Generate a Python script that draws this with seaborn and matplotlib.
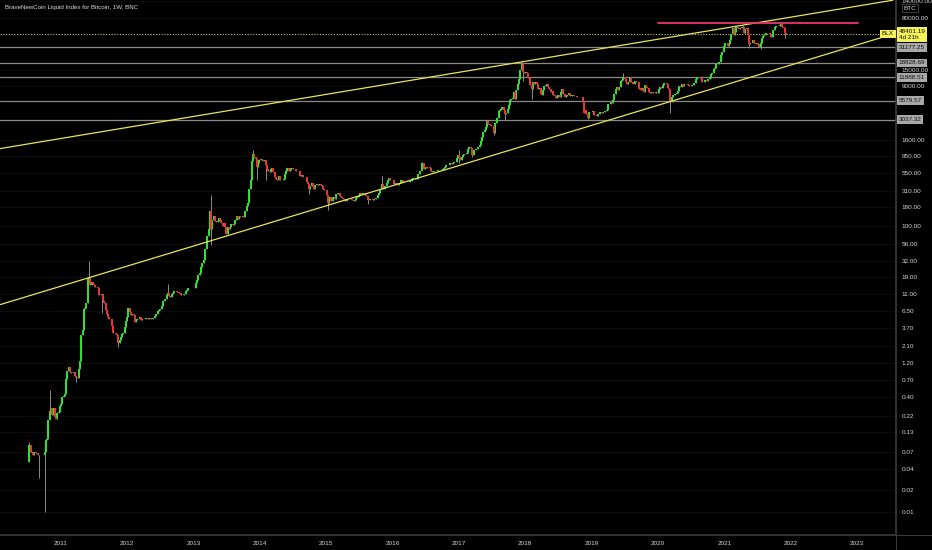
import matplotlib
matplotlib.use("Agg")
import matplotlib.pyplot as plt
import matplotlib.transforms as mtransforms
from matplotlib.lines import Line2D
import seaborn as sns
import pandas as pd
import numpy as np

sns.set_theme()
sns.set_style("dark", {"axes.facecolor": "black", "figure.facecolor": "black",
                       "axes.edgecolor": "#3a3a3a", "grid.color": "#0e0e0e"})
plt.rcParams['font.family'] = ['Liberation Sans', 'DejaVu Sans']

# weekly closes, BLX (BraveNewCoin Liquid Index)
first_open = 0.05
close_2010 = [0.086, 0.070, 0.066, 0.062, 0.070, 0.067, 0.066, 0.063, 0.062, 0.062, 0.062, 0.062,
              0.068, 0.10, 0.105, 0.19, 0.26, 0.28, 0.23, 0.28, 0.21, 0.20, 0.24, 0.25, 0.30]
close_2011 = [0.32, 0.40, 0.42, 0.45, 0.72, 0.92, 1.05, 0.90, 0.88, 0.87, 0.90, 0.80, 0.77,
              0.75, 1.0, 1.3, 3.0, 3.5, 6.9, 7.2, 8.4, 18.5, 19.0, 15.0, 16.5, 15.4,
              14.8, 13.8, 13.9, 13.6, 10.9, 10.8, 11.1, 8.9, 8.2, 6.6, 5.9, 5.3, 4.9,
              4.9, 4.0, 3.2, 3.2, 3.1, 3.0, 2.3, 2.5, 2.8, 3.1, 3.2, 3.9, 4.7]
close_2012 = [5.3, 7.0, 6.3, 5.6, 5.8, 5.6, 4.5, 4.8, 4.9, 4.9, 5.3, 4.8, 4.9,
              4.9, 4.9, 5.1, 5.0, 5.1, 5.1, 5.0, 5.1, 5.2, 5.4, 5.9, 6.4, 6.7,
              6.8, 7.6, 8.9, 8.9, 9.6, 10.9, 11.6, 10.5, 10.2, 11.0, 11.4, 12.3, 12.4,
              12.0, 11.8, 11.6, 10.7, 10.8, 10.9, 11.3, 12.4, 12.6, 13.3, 13.4, 13.4, 13.5, 13.5]
close_2013 = [13.6, 15.7, 17.3, 20.4, 22.2, 26.9, 29.9, 33.4, 46.9, 47.0, 71, 90,
              160, 90, 119, 136, 115, 112, 115, 129, 122, 108, 100, 108, 95,
              77, 97, 90, 95, 106, 104, 107, 122, 138, 125, 137, 133, 133, 138,
              131, 160, 188, 206, 330, 440, 800, 1000, 900, 870, 670, 760, 820]
close_2014 = [850, 830, 800, 830, 700, 620, 580, 560, 630, 640, 570, 480, 450,
              440, 500, 440, 440, 440, 450, 530, 580, 650, 580, 595, 640, 630,
              630, 620, 590, 585, 590, 500, 510, 480, 475, 475, 410, 380, 330,
              360, 390, 360, 325, 370, 385, 375, 380, 375, 355, 325, 315, 320]
close_2015 = [270, 210, 250, 225, 225, 255, 240, 275, 275, 285, 260, 250, 245,
              235, 225, 220, 235, 240, 235, 240, 230, 225, 230, 245, 255, 270,
              290, 275, 290, 285, 265, 260, 230, 230, 235, 240, 230, 235, 240,
              245, 270, 285, 325, 380, 330, 325, 360, 395, 435, 460, 440, 430]
close_2016 = [435, 385, 400, 380, 375, 400, 440, 430, 415, 410, 415, 415, 415,
              420, 425, 450, 460, 460, 455, 445, 530, 575, 580, 760, 625, 670,
              650, 665, 660, 650, 590, 570, 580, 575, 575, 605, 610, 605, 610,
              615, 640, 655, 700, 710, 710, 745, 735, 765, 770, 790, 890, 960]
close_2017 = [910, 820, 920, 970, 1010, 1000, 1050, 1180, 1270, 1230, 960, 960, 1140,
              1200, 1180, 1250, 1350, 1550, 1750, 2050, 2200, 2400, 2950, 2650, 2550, 2500,
              2510, 1950, 2750, 2750, 3250, 4050, 4100, 4350, 4600, 4150, 3700, 3800, 4350,
              4800, 5650, 6000, 6150, 7400, 5900, 8000, 9700, 11300, 15000, 19100, 14000, 13800]
close_2018 = [14100, 13700, 11500, 11600, 9200, 8100, 10300, 9700, 10300, 9600, 8200, 8500, 6950,
              6800, 8000, 8900, 9300, 9600, 8700, 8250, 7350, 7700, 6800, 6500, 6150, 6350,
              6750, 6350, 7400, 8200, 7000, 6300, 6500, 6700, 7200, 6500, 6500, 6700, 6600,
              6600, 6450, 6400, 6350, 6400, 6350, 5600, 3800, 4200, 3600, 3200, 3950, 3850, 3900]
close_2019 = [4000, 3550, 3550, 3450, 3650, 3600, 3950, 3800, 3850, 3950, 3980, 4100,
              5050, 5050, 5300, 5250, 5750, 6950, 8200, 8700, 8000, 8700, 10700, 11000, 11900,
              11300, 10200, 9500, 10100, 11800, 10300, 10200, 9600, 10400, 10300, 10300, 8100, 8300,
              7950, 8300, 7450, 9200, 8750, 8450, 7300, 7050, 7500, 7100, 7150, 7250, 7400, 7200]
close_2020 = [8100, 8650, 8350, 9350, 9900, 9900, 9700, 8550, 8050, 5350, 6200, 6800, 6800,
              6900, 7100, 7700, 8900, 8700, 9700, 8900, 9700, 9700, 9450, 9300, 9050, 9100,
              9250, 9200, 9900, 11100, 11900, 11850, 11750, 11700, 10300, 10300, 10900, 10800, 10650,
              11400, 11500, 13000, 13800, 15500, 16000, 18400, 18200, 19200, 19150, 24650, 26500, 32200]
close_2021 = [36000, 36000, 32300, 34300, 39200, 47200, 57500, 46300, 51000, 59000, 57400, 55800,
              58000, 59800, 60000, 50100, 56600, 58200, 46400, 34800, 35700, 35800, 39100, 35500, 34700,
              35300, 34200, 31800, 35400, 41500, 45000, 47000, 49000, 48800, 49900, 47100, 43000, 42800,
              54900, 60800, 61500, 60900, 61300, 63300, 65500, 59700, 57200, 49400, 48401.19]
year_starts = ['2010-07-12', '2011-01-03', '2012-01-02', '2013-01-07', '2014-01-06', '2015-01-05',
               '2016-01-04', '2017-01-02', '2018-01-01', '2019-01-07', '2020-01-06', '2021-01-04']

# long wicks that stand out
high_weeks = ['2010-07-12', '2010-11-01', '2011-06-06', '2012-08-13', '2013-04-08', '2013-11-25',
              '2015-11-02', '2016-06-13', '2017-01-02', '2017-12-11', '2019-06-24', '2021-04-12',
              '2021-11-08']
high_values = [0.095, 0.50, 32, 15.4, 266, 1160, 500, 770, 1150, 19800, 13800, 64800, 69000]
low_weeks = ['2010-09-06', '2010-10-04', '2011-03-28', '2011-08-15', '2011-11-14', '2013-04-08',
             '2013-12-16', '2014-02-03', '2014-09-29', '2015-01-12', '2015-08-17', '2017-01-02',
             '2017-03-13', '2017-07-10', '2017-09-11', '2017-12-18', '2018-02-05', '2018-12-10',
             '2020-03-09', '2021-05-17', '2021-07-19', '2021-11-29']
low_values = [0.03, 0.01, 0.65, 6.0, 2.0, 53, 440, 440, 275, 165, 200, 750, 900, 1850, 3000,
              10400, 6000, 3150, 3800, 30000, 29300, 42000]

# drawn objects
upper_line_dates = ['2010-02-01', '2023-07-17']
upper_line_prices = [1197, 142000]
lower_line_dates = ['2010-02-01', '2023-07-17']
lower_line_prices = [7.9, 47700]
ath_line_dates = ['2020-01-01', '2023-01-08']
ath_line_prices = [69000, 69000]
level_prices = [31177.25, 18828.69, 11888.51, 5579.57, 3037.32]
last_price = 48401.19

y_ticks = [140000, 80000, 15000, 9000, 1600, 950, 550, 310, 180, 100, 56, 32, 19, 11, 6.5,
           3.7, 2.1, 1.2, 0.7, 0.4, 0.22, 0.13, 0.07, 0.04, 0.02, 0.01]
years = list(range(2011, 2024))

frames = []
for start, closes in zip(year_starts, [close_2010, close_2011, close_2012, close_2013, close_2014,
                                        close_2015, close_2016, close_2017, close_2018, close_2019,
                                        close_2020, close_2021]):
    frames.append(pd.DataFrame({"week": pd.date_range(start, periods=len(closes), freq="7D"),
                                "close": closes}))
df = pd.concat(frames, ignore_index=True)
df["open"] = df["close"].shift(1).fillna(first_open)
df["high"] = df[["open", "close"]].max(axis=1)
df["low"] = df[["open", "close"]].min(axis=1)
for d, v in zip(high_weeks, high_values):
    i = (df["week"] - pd.Timestamp(d)).abs().idxmin()
    df.loc[i, "high"] = max(df.loc[i, "high"], v)
for d, v in zip(low_weeks, low_values):
    i = (df["week"] - pd.Timestamp(d)).abs().idxmin()
    df.loc[i, "low"] = min(df.loc[i, "low"], v)

green = "#2ee62e"
red = "#f03434"
yellow = "#e8e45c"

fig = plt.figure(figsize=(9.32, 5.5), dpi=100)
ax = fig.add_axes([0, 15 / 550, 896 / 932, 535 / 550])
ax.set_yscale("log")
ax.set_xlim(pd.Timestamp("2010-02-01"), pd.Timestamp("2023-08-03"))
ax.set_ylim(0.00477, 142800)

up = df["close"] >= df["open"]
ax.vlines(df["week"], df["low"], df["high"], color="#8c8c8c", lw=0.7, zorder=3)
ax.vlines(df.loc[up, "week"], df.loc[up, "open"], df.loc[up, "close"], color=green, lw=1.4, zorder=4)
ax.vlines(df.loc[~up, "week"], df.loc[~up, "close"], df.loc[~up, "open"], color=red, lw=1.4, zorder=4)

for dates, prices, col, lw in [(upper_line_dates, upper_line_prices, yellow, 0.9),
                               (lower_line_dates, lower_line_prices, yellow, 0.9),
                               (ath_line_dates, ath_line_prices, "#f0346c", 1.3)]:
    line_df = pd.DataFrame({"date": pd.to_datetime(dates), "price": prices})
    sns.lineplot(data=line_df, x="date", y="price", ax=ax, color=col, lw=lw, zorder=5)

for p in level_prices:
    ax.axhline(p, color="#8a8a8a", lw=0.9, zorder=2)
ax.axhline(last_price, color="#c8c46a", lw=0.8, ls=(0, (1, 1.5)), zorder=2)

ax.set_xlabel("")
ax.set_ylabel("")
ax.yaxis.tick_right()
ax.set_yticks(y_ticks)
ax.set_yticklabels([f"{v:.2f}" for v in y_ticks])
ax.yaxis.set_minor_locator(matplotlib.ticker.NullLocator())
ax.set_xticks([pd.Timestamp(f"{y}-01-01") for y in years])
ax.set_xticklabels([str(y) for y in years])
ax.tick_params(axis="y", length=0, pad=4, labelsize=4.6, labelcolor="#d6d6d6")
ax.tick_params(axis="x", length=0, pad=4, labelsize=4.6, labelcolor="#d6d6d6")
ax.grid(axis="y", color="#0e0e0e", lw=0.6)
ax.grid(axis="x", visible=False)
for s in ["top", "left"]:
    ax.spines[s].set_visible(False)
ax.spines["right"].set_color("#3a3a3a")
ax.spines["bottom"].set_color("#3a3a3a")
fig.add_artist(Line2D([896 / 932, 1], [15 / 550, 15 / 550], color="#3a3a3a", lw=0.8))
fig.add_artist(Line2D([896 / 932, 896 / 932], [0, 15 / 550], color="#3a3a3a", lw=0.8))

trans = mtransforms.blended_transform_factory(ax.transAxes, ax.transData)
for p in level_prices:
    ax.text(1.003, p, f"{p:.2f}", transform=trans, ha="left", va="center", fontsize=4.6,
            color="#111111", clip_on=False, zorder=10,
            bbox=dict(boxstyle="square,pad=0.3", fc="#a8a8a8", ec="none"))
top_trans = mtransforms.offset_copy(trans, fig=fig, x=0, y=5, units="dots")
ax.text(1.003, last_price, f"{last_price:.2f}\n4d 21h", transform=top_trans, ha="left", va="top",
        fontsize=4.6, color="#111111", clip_on=False, zorder=11, linespacing=1.3,
        bbox=dict(boxstyle="square,pad=0.3", fc="#f5f25a", ec="none"))
ax.text(882 / 896, last_price, "BLX", transform=trans, ha="left", va="center", fontsize=4.6,
        color="#111111", clip_on=False, zorder=11,
        bbox=dict(boxstyle="square,pad=0.25", fc="#f5f25a", ec="none"))
fig.text(910 / 932, 1 - 8 / 550, "BTC", ha="center", va="center", fontsize=4.6, color="#d6d6d6",
         bbox=dict(boxstyle="square,pad=0.25", fc="black", ec="#555555", lw=0.5))

fig.text(5 / 932, 1 - 7 / 550, "BraveNewCoin Liquid Index for Bitcoin, 1W, BNC", ha="left",
         va="center", fontsize=4.4, color="#dcdcdc")

fig.savefig("out.png", dpi=100, facecolor="black")
